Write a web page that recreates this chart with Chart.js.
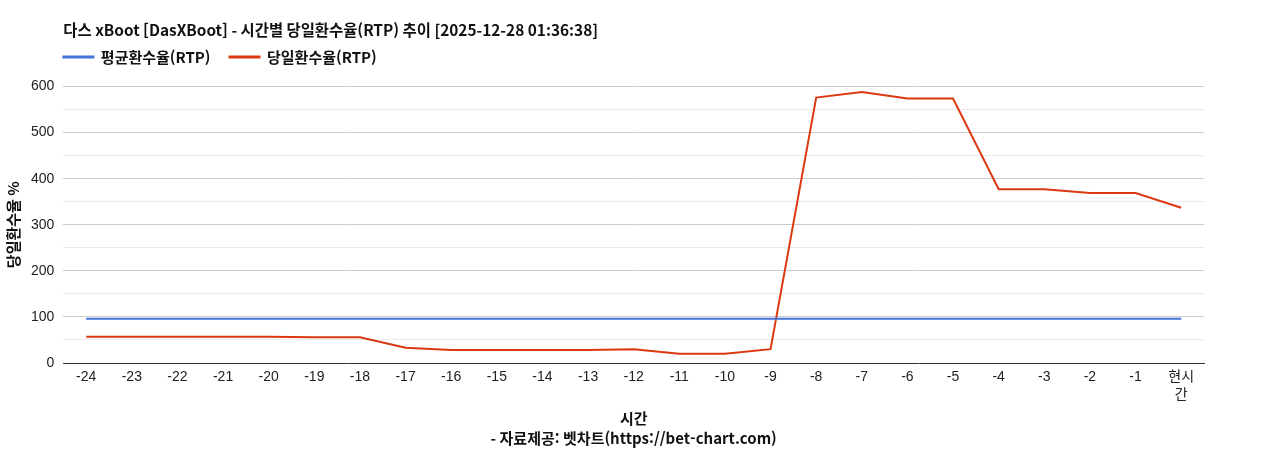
<!DOCTYPE html>
<html lang="ko">
<head>
<meta charset="utf-8">
<script src="https://cdn.jsdelivr.net/npm/chart.js@4"></script>
<style>
  html, body { margin: 0; padding: 0; background: #fff; }
  #wrap { width: 1268px; height: 450px; }
</style>
</head>
<body>
<div id="wrap"><canvas id="grafico"></canvas></div>
<script>
// --- dados ---
const horas = ['-24', '-23', '-22', '-21', '-20', '-19', '-18', '-17', '-16', '-15', '-14', '-13',
  '-12', '-11', '-10', '-9', '-8', '-7', '-6', '-5', '-4', '-3', '-2', '-1', ['현시', '간']];
const mediaRtp = [96, 96, 96, 96, 96, 96, 96, 96, 96, 96, 96, 96,
  96, 96, 96, 96, 96, 96, 96, 96, 96, 96, 96, 96, 96];
const rtpDiario = [57, 57, 57, 57, 57, 56, 56, 33, 28, 28, 28, 28,
  30, 20, 20, 30, 576, 588, 574, 574, 377, 377, 369, 369, 337];

const TITULO = '다스 xBoot [DasXBoot] - 시간별 당일환수율(RTP) 추이 [2025-12-28 01:36:38]';
const FONTE_RODAPE = '- 자료제공: 벳차트(https://bet-chart.com)';
const FONTE_TXT = '"Liberation Sans", "Noto Sans CJK KR", sans-serif';
const FONTE_KR = '"Noto Sans CJK KR", "Liberation Sans", sans-serif';
const LEGENDA_PAD = 19;
const LEGENDA_SOBE = 12;

// legenda encostada no início da área do gráfico e um pouco mais alta
const ajustaLegenda = {
  id: 'ajustaLegenda',
  afterLayout(chart) {
    const lg = chart.legend;
    lg.left = chart.chartArea.left - LEGENDA_PAD;
    lg.top -= LEGENDA_SOBE;
    lg.bottom -= LEGENDA_SOBE;
  }
};

new Chart(document.getElementById('grafico'), {
  type: 'line',
  data: {
    labels: horas,
    datasets: [
      { label: '평균환수율(RTP)', data: mediaRtp, borderColor: '#4373d6', backgroundColor: '#4373d6',
        borderWidth: 2, pointRadius: 0, tension: 0 },
      { label: '당일환수율(RTP)', data: rtpDiario, borderColor: '#dc3912', backgroundColor: '#dc3912',
        borderWidth: 2, pointRadius: 0, tension: 0 }
    ]
  },
  options: {
    responsive: true, maintainAspectRatio: false, animation: false,
    layout: { padding: { left: 4, right: 64, top: 0, bottom: 0 } },
    plugins: {
      title: {
        display: true, text: TITULO, align: 'start', fullSize: false, color: '#111',
        font: { family: FONTE_KR, size: 15.4, weight: 'bold' },
        padding: { top: 21, bottom: 3 }
      },
      subtitle: {
        display: true, text: FONTE_RODAPE, position: 'bottom', fullSize: false, color: '#111',
        font: { family: FONTE_KR, size: 15, weight: 'bold' },
        padding: { top: 0, bottom: 3 }
      },
      legend: {
        display: true, align: 'start', fullSize: false,
        labels: {
          boxWidth: 30, boxHeight: 1, padding: LEGENDA_PAD, color: '#111',
          font: { family: FONTE_KR, size: 15, weight: 'bold' }
        }
      },
      tooltip: { enabled: false }
    },
    scales: {
      x: {
        offset: true,
        grid: { display: false, drawTicks: false },
        border: { display: true, color: '#333', width: 1 },
        ticks: { color: '#222', padding: 5, maxRotation: 0, autoSkip: false,
          font: { family: FONTE_TXT, size: 14, lineHeight: 1.2857 } },
        title: {
          display: true, text: '시간', color: '#111',
          font: { family: FONTE_KR, size: 15, weight: 'bold' },
          padding: { top: 0, bottom: 2 }
        }
      },
      y: {
        min: 0, max: 600,
        grid: {
          drawTicks: false,
          color: (ctx) => (ctx.tick && ctx.tick.value % 100 === 0) ? '#cccccc' : '#ebebeb'
        },
        border: { display: false },
        ticks: {
          stepSize: 50, padding: 9, color: '#222',
          font: { family: FONTE_TXT, size: 14 },
          callback: (v) => (v % 100 === 0 ? v : '')
        },
        title: {
          display: true, text: '당일환수율 %', color: '#111',
          font: { family: FONTE_KR, size: 15, weight: 'bold' },
          padding: { top: 0, bottom: 0 }
        }
      }
    }
  },
  plugins: [ajustaLegenda]
});
</script>
</body>
</html>
